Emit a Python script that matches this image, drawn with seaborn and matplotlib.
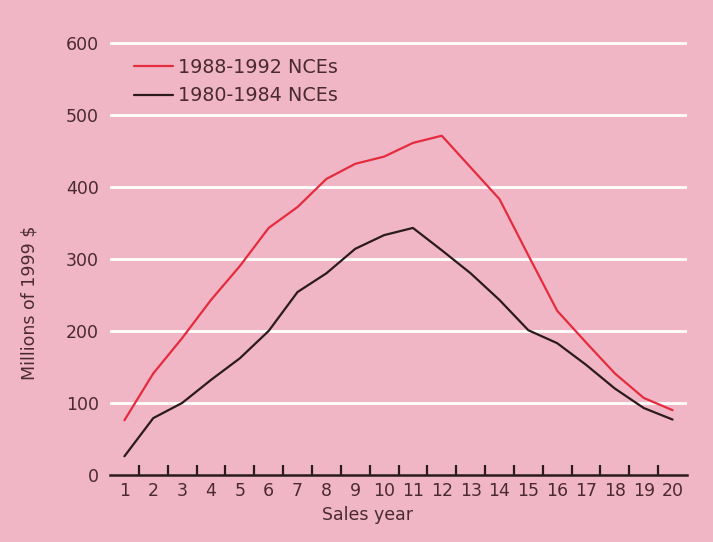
import numpy as np
import pandas as pd
import matplotlib
matplotlib.use("Agg")
import matplotlib.pyplot as plt
import seaborn as sns
from matplotlib.ticker import FixedLocator

# Sales revenue per year after launch, millions of 1999 dollars
sales_years = list(range(1, 21))
nce_1988_1992 = [76, 141, 190, 243, 290, 343, 372, 411, 432, 442,
                 461, 471, 427, 383, 305, 228, 184, 141, 107, 90]
nce_1980_1984 = [26, 79, 100, 132, 162, 200, 254, 280, 314, 333,
                 343, 312, 280, 243, 201, 183, 153, 120, 93, 77]
series_names = ["1988-1992 NCEs", "1980-1984 NCEs"]
y_ticks = [0, 100, 200, 300, 400, 500, 600]

BG = "#f1b6c5"
TEXT = "#4a2a30"
RED = "#e52b3e"
DARK = "#2b1a1e"

df = pd.DataFrame({
    "Sales year": sales_years * 2,
    "value": nce_1988_1992 + nce_1980_1984,
    "cohort": [series_names[0]] * len(sales_years) + [series_names[1]] * len(sales_years),
})

sns.set_style("white", {"axes.facecolor": BG, "figure.facecolor": BG})
plt.rcParams["font.family"] = ["DejaVu Sans"]
plt.rcParams["text.color"] = TEXT

fig = plt.figure(figsize=(7.13, 5.42), dpi=100)
ax = fig.add_axes([110 / 713, 1 - 475 / 542, (687 - 110) / 713, (475 - 32) / 542])

sns.lineplot(data=df, x="Sales year", y="value", hue="cohort",
             hue_order=series_names, palette=[RED, DARK],
             linewidth=1.6, ax=ax, legend=True)

ax.set_xlim(0.5, 20.5)
ax.set_ylim(0, 615)

# horizontal white rules
for v in y_ticks[1:]:
    ax.axhline(v, color="white", linewidth=2.0, zorder=0.5)

ax.set_yticks(y_ticks)
ax.set_yticklabels([str(v) for v in y_ticks])
ax.tick_params(axis="y", length=0, pad=8, labelsize=12.5, labelcolor=TEXT)

ax.set_xticks(sales_years)
ax.set_xticklabels([str(v) for v in sales_years])
ax.xaxis.set_minor_locator(FixedLocator(np.arange(1.5, 20, 1.0)))
ax.tick_params(axis="x", which="major", bottom=True, length=0, pad=5,
               labelsize=12.5, labelcolor=TEXT)
ax.tick_params(axis="x", which="minor", bottom=True, direction="in",
               length=7, width=1.6, color=DARK)

for side in ["left", "top", "right"]:
    ax.spines[side].set_visible(False)
ax.spines["bottom"].set_color(DARK)
ax.spines["bottom"].set_linewidth(1.8)

ax.set_xlabel("")
ax.set_ylabel("")
fig.text(368 / 713, 1 - 515 / 542, "Sales year", ha="center", va="center",
         fontsize=12.5, color=TEXT)
fig.text(30 / 713, 1 - 303 / 542, "Millions of 1999 $", ha="center", va="center",
         rotation=90, fontsize=12.5, color=TEXT)

leg = ax.legend(frameon=False, loc="upper left",
                bbox_to_anchor=((126 - 110) / 577, (475 - 50) / 443),
                fontsize=13.8, handlelength=2.05, handletextpad=0.25,
                labelspacing=0.5, borderaxespad=0)
for t in leg.get_texts():
    t.set_color(TEXT)
for h in leg.get_lines():
    h.set_linewidth(1.6)

fig.savefig("out.png", dpi=100, facecolor=BG)
